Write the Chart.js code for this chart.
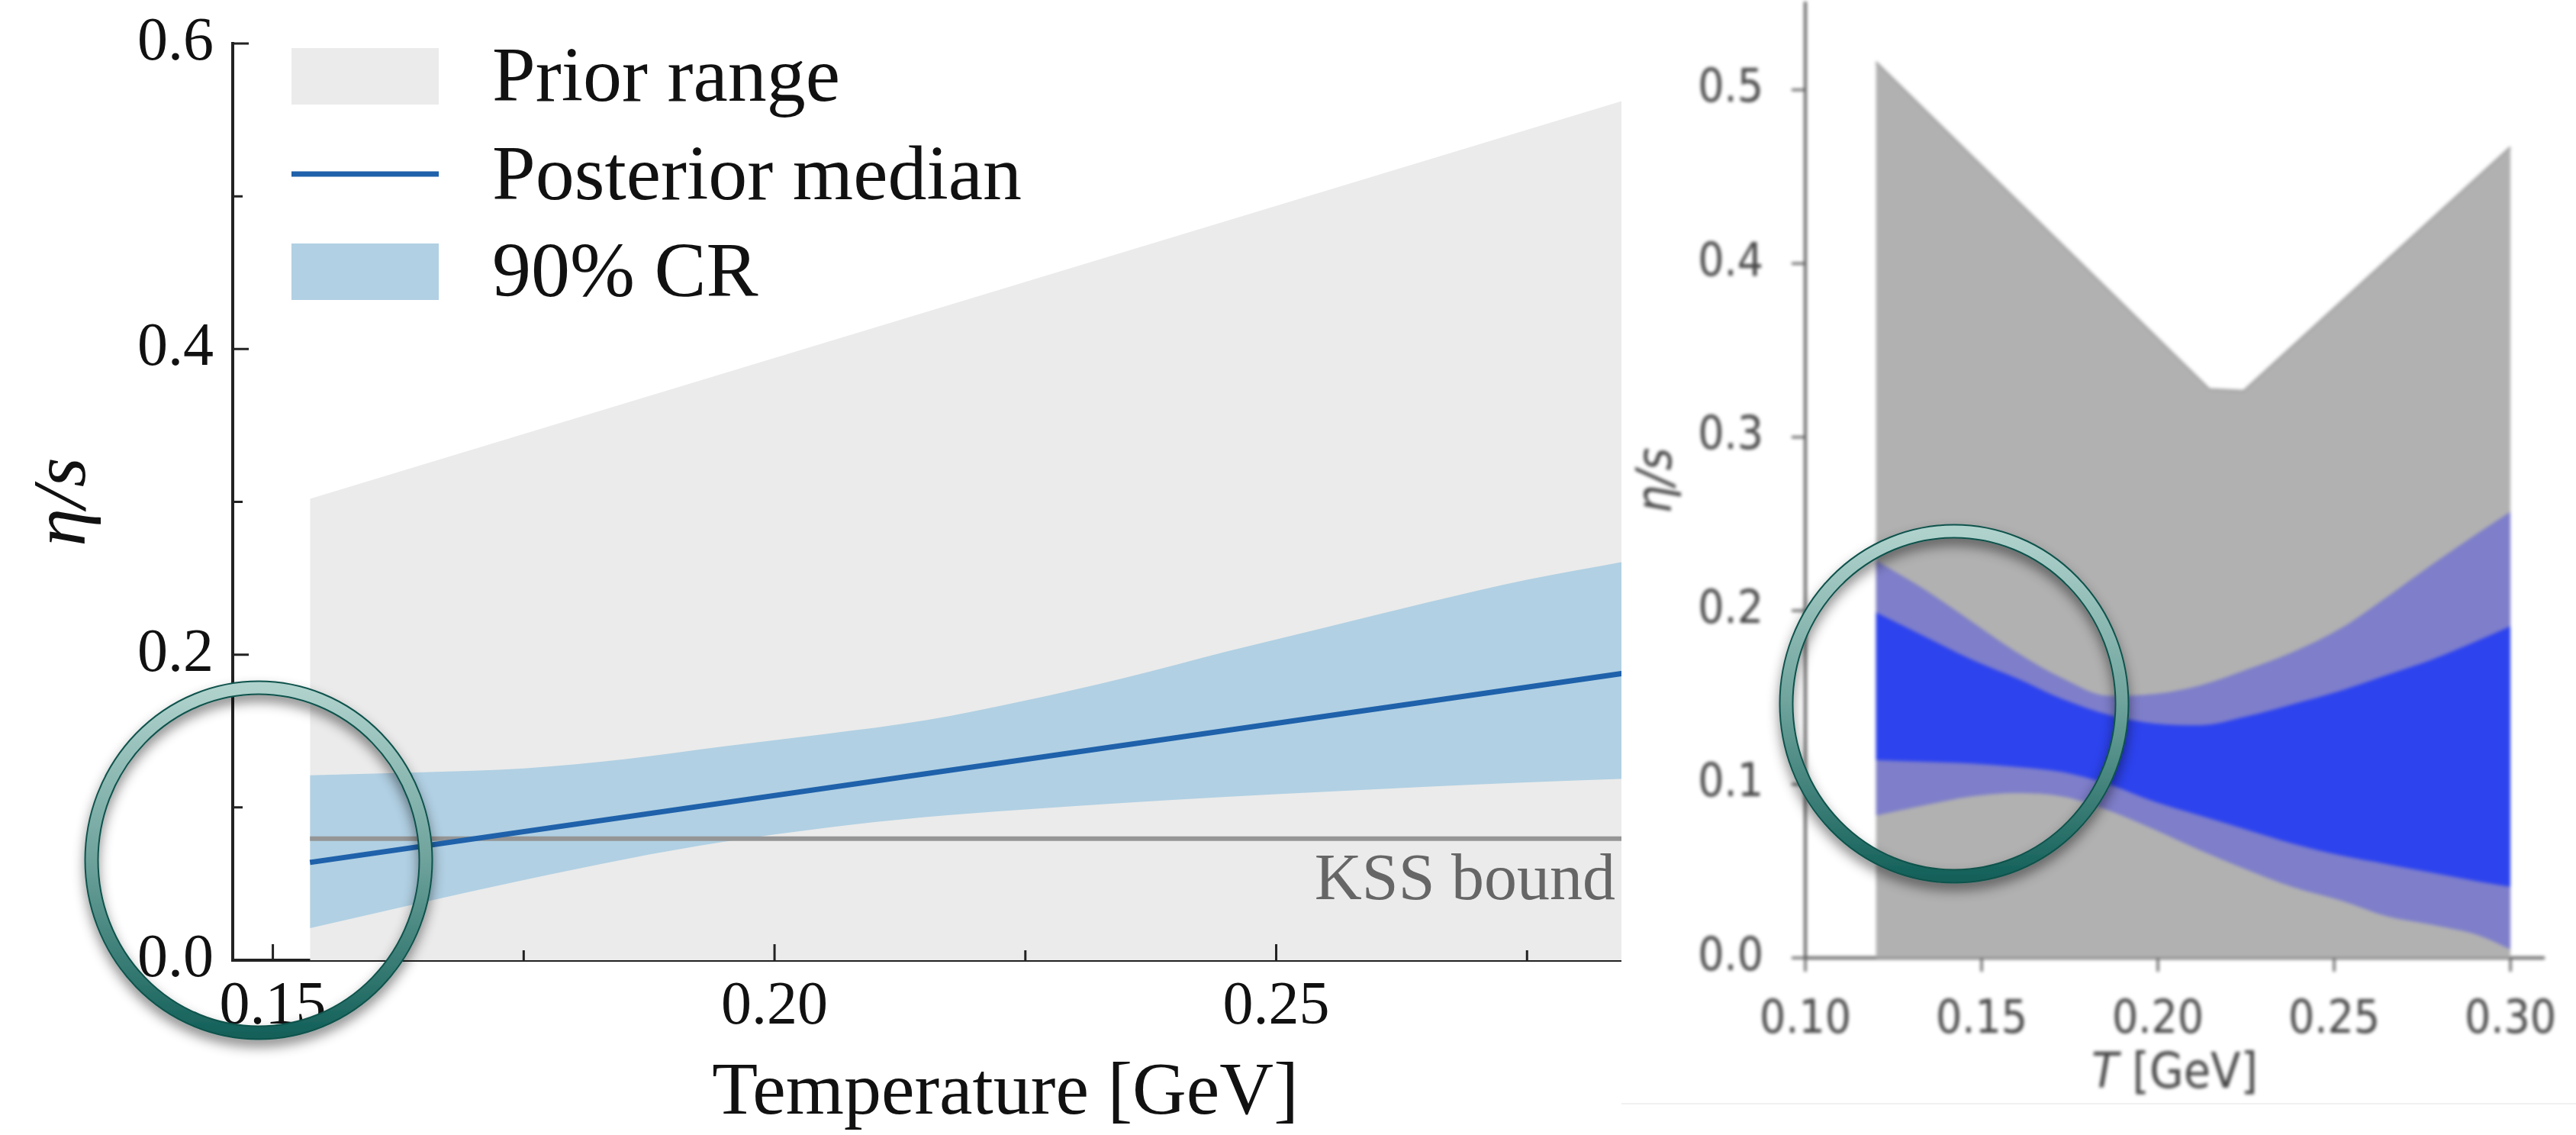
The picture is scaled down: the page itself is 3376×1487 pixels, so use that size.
<!DOCTYPE html>
<html lang="en">
<head>
  <meta charset="UTF-8">
  <title>Shear viscosity η/s vs temperature</title>
  <style>
    body { margin: 0; background: #fff; }
    #stage { position: relative; width: 3376px; height: 1487px; overflow: hidden; background: #fff; }
    #left { position: absolute; left: 0; top: 0; }
    #rightBox {
      position: absolute; left: 2125px; top: 0; width: 1251px; height: 1445px;
      background: #fff; border-bottom: 2px solid #f1f1f1;
    }
    #right { filter: blur(2.2px); }
    #rings { position: absolute; left: 0; top: 0; pointer-events: none; }
  </style>
  <script src="https://cdn.jsdelivr.net/npm/chart.js"></script>
</head>
<body>
  <div id="stage">
    <canvas id="left" width="2480" height="1487"></canvas>
    <div id="rightBox"><canvas id="right" width="1251" height="1445"></canvas></div>
    <svg id="rings" width="3376" height="1487">
      <defs>
        <linearGradient id="teal" x1="0" y1="0" x2="0" y2="1">
          <stop offset="0" stop-color="#b0d2cd"/>
          <stop offset="0.5" stop-color="#6ea39c"/>
          <stop offset="1" stop-color="#14615a"/>
        </linearGradient>
        <filter id="shadow" x="-20%" y="-20%" width="140%" height="140%">
          <feDropShadow dx="0" dy="9" stdDeviation="8" flood-color="#000" flood-opacity="0.45"/>
        </filter>
      </defs>
      <g filter="url(#shadow)">
        <ellipse cx="339" cy="1127" rx="219" ry="226" fill="none" stroke="#0f524c" stroke-width="19"/>
        <ellipse cx="339" cy="1127" rx="219" ry="226" fill="none" stroke="url(#teal)" stroke-width="15"/>
      </g>
      <g filter="url(#shadow)">
        <ellipse cx="2561" cy="922" rx="220" ry="226" fill="none" stroke="#0f524c" stroke-width="19"/>
        <ellipse cx="2561" cy="922" rx="220" ry="226" fill="none" stroke="url(#teal)" stroke-width="15"/>
      </g>
    </svg>
  </div>

  <script>
    // ---- left panel: posterior from the Bayesian fit ----
    const crT     = [0.1537, 0.165, 0.175, 0.185, 0.195, 0.205, 0.215, 0.225, 0.235, 0.245, 0.255, 0.265, 0.275, 0.2848];
    const crUpper = [0.121, 0.123, 0.1255, 0.1315, 0.140, 0.148, 0.157, 0.170, 0.185, 0.202, 0.218, 0.234, 0.249, 0.261];
    const crLower = [0.021, 0.038, 0.0525, 0.066, 0.0775, 0.0866, 0.0937, 0.0987, 0.1031, 0.1069, 0.1103, 0.1135, 0.1164, 0.1188];
    const medianT = [0.1537, 0.2848];
    const median  = [0.064, 0.188];
    const priorT  = [0.1537, 0.2848];
    const priorUpper = [0.302, 0.563];
    const kssT = [0.1537, 0.30];
    const kssValue = 0.0796;
    const leftXMajor = [0.15, 0.20, 0.25, 0.30];
    const leftXMinor = [0.175, 0.225, 0.275];
    const leftYMajor = [0.0, 0.2, 0.4, 0.6];
    const leftYMinor = [0.1, 0.3, 0.5];

    // ---- right panel: earlier estimate ----
    const rT = [0.120, 0.134, 0.147, 0.160, 0.173, 0.186, 0.199, 0.212, 0.225, 0.238, 0.252, 0.265, 0.278, 0.291, 0.300];
    const outerUpper = [0.229, 0.212, 0.194, 0.176, 0.161, 0.151, 0.152, 0.157, 0.166, 0.176, 0.190, 0.208, 0.227, 0.245, 0.257];
    const innerUpper = [0.199, 0.185, 0.172, 0.161, 0.149, 0.140, 0.135, 0.134, 0.139, 0.146, 0.154, 0.163, 0.172, 0.183, 0.191];
    const innerLower = [0.114, 0.113, 0.112, 0.110, 0.107, 0.100, 0.090, 0.082, 0.074, 0.066, 0.059, 0.054, 0.049, 0.044, 0.041];
    const outerLower = [0.082, 0.088, 0.093, 0.095, 0.093, 0.085, 0.074, 0.062, 0.051, 0.041, 0.033, 0.024, 0.019, 0.013, 0.005];
    const rPriorT = [0.120, 0.2146, 0.2243, 0.300];
    const rPriorUpper = [0.516, 0.3275, 0.3265, 0.467];
    const rightXTicks = [0.10, 0.15, 0.20, 0.25, 0.30];
    const rightYTicks = [0.0, 0.1, 0.2, 0.3, 0.4, 0.5];

    const pts = (xs, ys) => xs.map((x, i) => ({ x, y: ys[i] }));
    const serif = '"Liberation Serif", "DejaVu Serif", serif';
    const sans = '"DejaVu Sans Condensed", "DejaVu Sans", sans-serif';

    // keep the plot box where the layout padding puts it
    const noAutoPad = s => { s.paddingTop = 0; s.paddingBottom = 0; s.paddingLeft = 0; s.paddingRight = 0; };

    // tick marks drawn from the scales (Chart.js has no minor ticks / inward ticks)
    const tickMarks = {
      id: 'tickMarks',
      afterDatasetsDraw(chart, args, o) {
        const { ctx, chartArea: a, scales: { x, y } } = chart;
        const d = o.inward ? -1 : 1;
        ctx.save();
        ctx.strokeStyle = o.color;
        ctx.lineWidth = o.width;
        ctx.beginPath();
        const xs = [[o.xMajor, o.major], [o.xMinor || [], o.minor]];
        xs.forEach(([vals, len]) => vals.forEach(v => {
          const px = x.getPixelForValue(v);
          ctx.moveTo(px, a.bottom);
          ctx.lineTo(px, a.bottom + d * len);
        }));
        const ys = [[o.yMajor, o.major], [o.yMinor || [], o.minor]];
        ys.forEach(([vals, len]) => vals.forEach(v => {
          const py = y.getPixelForValue(v);
          ctx.moveTo(a.left, py);
          ctx.lineTo(a.left - d * len, py);
        }));
        ctx.stroke();
        ctx.restore();
      }
    };

    // legend box in the upper left and the KSS label
    const leftNotes = {
      id: 'leftNotes',
      afterDraw(chart) {
        const { ctx, scales: { x, y } } = chart;
        const ds = chart.data.datasets;
        ctx.save();
        ctx.font = '86px ' + serif;
        ctx.fillStyle = '#666';
        ctx.textAlign = 'right';
        ctx.textBaseline = 'alphabetic';
        ctx.fillText('KSS bound', x.getPixelForValue(0.2838), y.getPixelForValue(kssValue) + 79);

        const rows = [
          { d: ds[0], kind: 'box', mid: 100, base: 132 },
          { d: ds[4], kind: 'line', mid: 228, base: 261 },
          { d: ds[2], kind: 'box', mid: 356, base: 388 }
        ];
        ctx.textAlign = 'left';
        ctx.font = '102px ' + serif;
        rows.forEach(r => {
          if (r.kind === 'box') {
            ctx.fillStyle = r.d.backgroundColor;
            ctx.fillRect(382, r.mid - 37, 193, 74);
          } else {
            ctx.strokeStyle = r.d.borderColor;
            ctx.lineWidth = r.d.borderWidth;
            ctx.beginPath();
            ctx.moveTo(382, r.mid);
            ctx.lineTo(575, r.mid);
            ctx.stroke();
          }
          ctx.fillStyle = '#111';
          ctx.fillText(r.d.label, 645, r.base);
        });
        ctx.restore();
      }
    };

    // x title of the right panel, with the italic T
    const rightTitle = {
      id: 'rightTitle',
      afterDraw(chart) {
        const { ctx, chartArea: a } = chart;
        const italic = 'italic 64px ' + sans;
        const upright = '64px ' + sans;
        ctx.save();
        ctx.fillStyle = '#474747';
        ctx.textBaseline = 'middle';
        ctx.font = italic;
        const w1 = ctx.measureText('T').width;
        ctx.font = upright;
        const w2 = ctx.measureText(' [GeV]').width;
        const x0 = (a.left + a.right) / 2 - (w1 + w2) / 2;
        const yMid = chart.height - 37;
        ctx.font = italic;
        ctx.fillText('T', x0, yMid);
        ctx.font = upright;
        ctx.fillText(' [GeV]', x0 + w1, yMid);
        ctx.restore();
      }
    };

    new Chart(document.getElementById('left'), {
      type: 'line',
      data: {
        datasets: [
          { label: 'Prior range', data: pts(priorT, priorUpper), fill: 'origin',
            backgroundColor: '#ebebeb', borderWidth: 0, order: 5 },
          { label: 'lower', data: pts(crT, crLower), fill: false, borderWidth: 0, order: 4,
            cubicInterpolationMode: 'monotone' },
          { label: '90% CR', data: pts(crT, crUpper), fill: '-1', cubicInterpolationMode: 'monotone',
            backgroundColor: '#b1d0e3', borderWidth: 0, order: 3 },
          { label: 'KSS', data: pts(kssT, [kssValue, kssValue]), borderColor: '#959595',
            borderWidth: 6, fill: false, order: 2 },
          { label: 'Posterior median', data: pts(medianT, median), borderColor: '#1f61aa',
            borderWidth: 7, fill: false, order: 1 }
        ]
      },
      options: {
        responsive: false,
        animation: false,
        layout: { padding: { top: 57, right: 150, bottom: 0, left: 0 } },
        elements: { point: { radius: 0 }, line: { tension: 0 } },
        plugins: {
          legend: { display: false },
          tooltip: { enabled: false },
          tickMarks: { inward: true, color: '#222', width: 3, major: 21, minor: 13,
            xMajor: leftXMajor, xMinor: leftXMinor, yMajor: leftYMajor, yMinor: leftYMinor }
        },
        scales: {
          x: {
            type: 'linear', min: 0.146, max: 0.30,
            afterBuildTicks: s => { s.ticks = leftXMajor.map(v => ({ value: v })); },
            afterFit: s => { s.height = 229; noAutoPad(s); },
            grid: { display: false },
            border: { display: true, color: '#222', width: 4 },
            ticks: { font: { family: serif, size: 80 }, color: '#111', padding: 6, maxRotation: 0,
              callback: v => v.toFixed(2) },
            title: { display: true, text: 'Temperature [GeV]', color: '#111',
              font: { family: serif, size: 98, lineHeight: 1.1 }, padding: { top: 0, bottom: 0 } }
          },
          y: {
            type: 'linear', min: 0, max: 0.6,
            afterBuildTicks: s => { s.ticks = leftYMajor.map(v => ({ value: v })); },
            afterFit: s => { s.width = 305; noAutoPad(s); },
            grid: { display: false },
            border: { display: true, color: '#222', width: 4 },
            ticks: { font: { family: serif, size: 80 }, color: '#111', padding: 17,
              callback: v => v.toFixed(1) },
            title: { display: true, text: 'η/s', color: '#111',
              font: { family: serif, size: 100, style: 'italic', lineHeight: 1.2 }, padding: { top: 25, bottom: 0 } }
          }
        }
      },
      plugins: [tickMarks, leftNotes]
    });

    new Chart(document.getElementById('right'), {
      type: 'line',
      data: {
        datasets: [
          { label: 'prior', data: pts(rPriorT, rPriorUpper), fill: 'origin', cubicInterpolationMode: 'default',
            tension: 0, backgroundColor: '#b1b1b1', borderColor: '#a4a4a4', borderWidth: 3, order: 5 },
          { label: 'outer lower', data: pts(rT, outerLower), fill: false, borderWidth: 0, order: 4 },
          { label: 'outer', data: pts(rT, outerUpper), fill: '-1',
            backgroundColor: '#7e7eca', borderWidth: 0, order: 3 },
          { label: 'inner lower', data: pts(rT, innerLower), fill: false, borderWidth: 0, order: 2 },
          { label: 'inner', data: pts(rT, innerUpper), fill: '-1',
            backgroundColor: '#2d43ee', borderWidth: 0, order: 1 }
        ]
      },
      options: {
        responsive: false,
        animation: false,
        layout: { padding: { top: 4, right: 42, bottom: 0, left: 0 } },
        elements: { point: { radius: 0 }, line: { cubicInterpolationMode: 'monotone' } },
        plugins: {
          legend: { display: false },
          tooltip: { enabled: false },
          tickMarks: { inward: false, color: '#5a5a5a', width: 3, major: 18, minor: 0,
            xMajor: rightXTicks, yMajor: rightYTicks }
        },
        scales: {
          x: {
            type: 'linear', min: 0.10, max: 0.3095,
            afterBuildTicks: s => { s.ticks = rightXTicks.map(v => ({ value: v })); },
            afterFit: s => { s.height = 190; noAutoPad(s); },
            grid: { display: false },
            border: { display: true, color: '#666', width: 4 },
            ticks: { font: { family: sans, size: 60 }, color: '#474747', padding: 38, maxRotation: 0,
              callback: v => v.toFixed(2) },
            title: { display: false }
          },
          y: {
            type: 'linear', min: 0, max: 0.55,
            afterBuildTicks: s => { s.ticks = rightYTicks.map(v => ({ value: v })); },
            afterFit: s => { s.width = 241; noAutoPad(s); },
            grid: { display: false },
            border: { display: true, color: '#666', width: 4 },
            ticks: { font: { family: sans, size: 60 }, color: '#474747', padding: 47,
              callback: v => v.toFixed(1) },
            title: { display: true, text: 'η/s', color: '#474747',
              font: { family: sans, size: 64, style: 'italic', lineHeight: 1.0 }, padding: { top: 16, bottom: 0 } }
          }
        }
      },
      plugins: [tickMarks, rightTitle]
    });
  </script>
</body>
</html>
